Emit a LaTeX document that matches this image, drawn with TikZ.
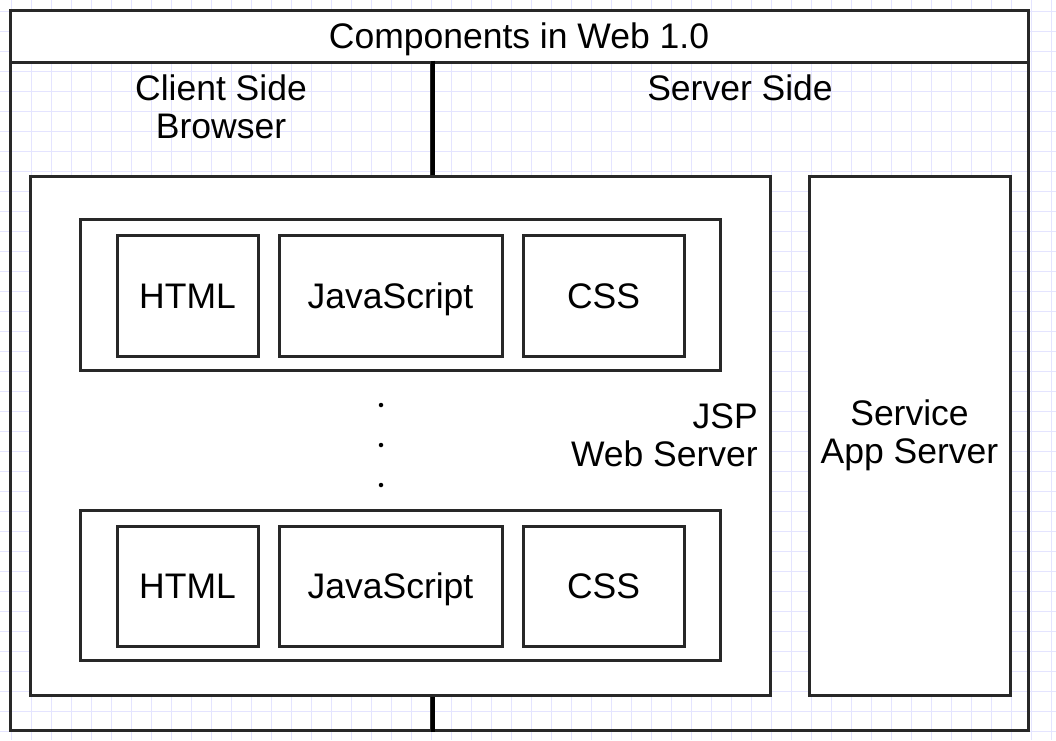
\documentclass[tikz,border=0pt]{standalone}
\usepackage{fontspec}
\setmainfont{Liberation Sans}
\definecolor{gridc}{RGB}{228,228,255}
\definecolor{linec}{RGB}{40,40,40}
\tikzset{
  every node/.style={font=\fontsize{35.5}{38}\selectfont},
  frame/.style={draw=linec, line width=3pt},
  box/.style={draw=linec, line width=3pt, fill=white, rectangle, inner sep=0pt},
  itembox/.style={box, text height=25pt, text depth=0pt},
  lbl/.style={align=center, inner sep=0pt},
  dotc/.style={circle, fill=black, inner sep=0pt, minimum size=4.5pt}
}
\begin{document}
\begin{tikzpicture}[x=1pt,y=-1pt]
\useasboundingbox (0,0) rectangle (1056,740);
% grid
\foreach \i in {0,...,52} {
  \draw[gridc, line width=1pt] ({11.7+20*\i},0) -- ({11.7+20*\i},740);
}
\foreach \i in {0,...,36} {
  \draw[gridc, line width=1pt] (0,{11.7+20*\i}) -- (1056,{11.7+20*\i});
}
% outer pool
\node[box, minimum width=1018pt, minimum height=52pt, text height=25pt, text depth=0pt] (title) at (519,36) {Components in Web 1.0};
\node[frame, rectangle, inner sep=0pt, minimum width=421pt, minimum height=668pt] (client) at (220.5,396) {};
\node[frame, rectangle, inner sep=0pt, minimum width=597pt, minimum height=668pt] (server) at (729.5,396) {};
\draw[black, line width=4pt] (client.north east) -- (client.south east);
\node[lbl] (clientlbl) at (221,107) {Client Side\\Browser};
\node[lbl] (serverlbl) at (740,88) {Server Side};
% web server
\node[box, minimum width=740pt, minimum height=519pt] (web) at (400,435.5) {};
\node[lbl, align=right, anchor=east] (weblbl) at (758,435) {JSP\\Web Server};
% page groups
\node[box, minimum width=640pt, minimum height=151pt] (page1) at (400,294.5) {};
\node[itembox, minimum width=141pt, minimum height=121pt] (html1) at (187.5,295.5) {HTML};
\node[itembox, minimum width=223pt, minimum height=121pt] (js1) at (390.5,295.5) {JavaScript};
\node[itembox, minimum width=161pt, minimum height=121pt] (css1) at (603.5,295.5) {CSS};
\node[box, minimum width=640pt, minimum height=150pt] (page2) at (400,585) {};
\node[itembox, minimum width=141pt, minimum height=120pt] (html2) at (187.5,586) {HTML};
\node[itembox, minimum width=223pt, minimum height=120pt] (js2) at (390.5,586) {JavaScript};
\node[itembox, minimum width=161pt, minimum height=120pt] (css2) at (603.5,586) {CSS};
\node[dotc] (d1) at (381,405) {};
\node[dotc] (d2) at (381,445) {};
\node[dotc] (d3) at (381,485) {};
% app server
\node[box, minimum width=201pt, minimum height=519pt, align=center] (app) at (909.5,435.5) {Service\\App Server};
\end{tikzpicture}
\end{document}
